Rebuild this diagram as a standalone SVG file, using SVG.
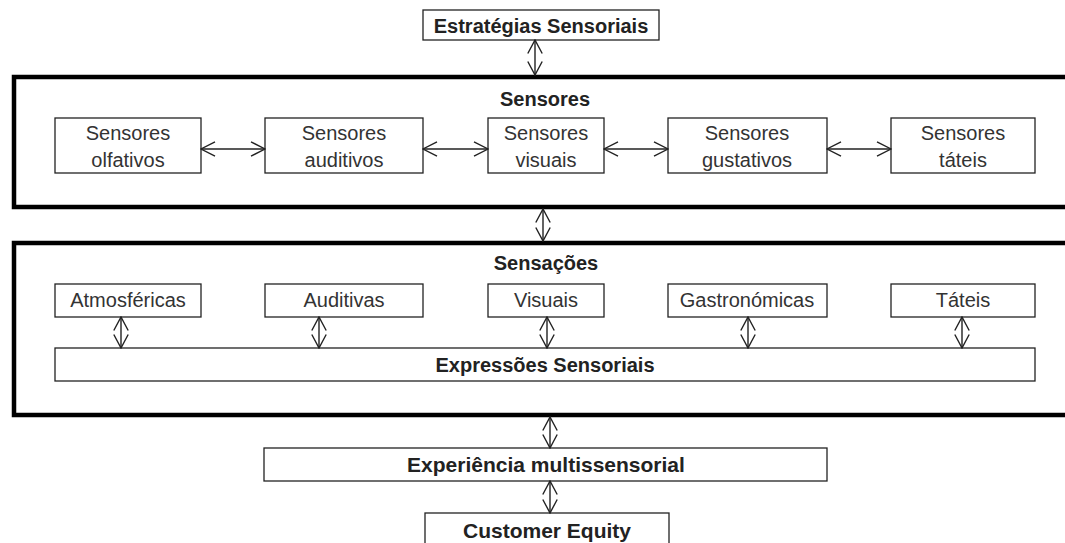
<svg xmlns="http://www.w3.org/2000/svg" width="1065" height="543" viewBox="0 0 1065 543">
  <style>
    .box { fill: #fff; stroke: #222; stroke-width: 1.3; }
    .frame { fill: none; stroke: #000; stroke-width: 4.5; }
    .lbl { font-family: "Liberation Sans", Arial, sans-serif; font-size: 20px; fill: #333; text-anchor: middle; }
    .ttl { font-family: "Liberation Sans", Arial, sans-serif; font-size: 20px; font-weight: bold; fill: #222; text-anchor: middle; }
    .ttl2 { font-family: "Liberation Sans", Arial, sans-serif; font-size: 21px; font-weight: bold; fill: #222; text-anchor: middle; }
    .conn { fill: none; stroke: #222; stroke-width: 1.4; }
    .h { marker-start: url(#hh); marker-end: url(#hh); }
    .v { marker-start: url(#vh); marker-end: url(#vh); }
  </style>
  <defs>
    <!-- open V head for horizontal links -->
    <marker id="hh" markerUnits="userSpaceOnUse" viewBox="0 0 16 16" markerWidth="16" markerHeight="16" refX="15" refY="8" orient="auto-start-reverse">
      <path d="M1,0.8 L15,8 L1,15.2" fill="none" stroke="#222" stroke-width="1.4"/>
    </marker>
    <!-- open V head for vertical links, wide enough to read as a diamond -->
    <marker id="vh" markerUnits="userSpaceOnUse" viewBox="0 0 16 16" markerWidth="16" markerHeight="16" refX="15" refY="8" orient="auto-start-reverse">
      <path d="M1.5,0.8 L15,8 L1.5,15.2" fill="none" stroke="#222" stroke-width="1.4"/>
    </marker>
  </defs>
  <rect width="1065" height="543" fill="#fff"/>

  <g id="strategies">
    <rect class="box" x="423" y="10" width="236" height="30"/>
    <text class="ttl" x="541" y="33">Estratégias Sensoriais</text>
  </g>

  <g id="sensors-frame">
    <rect class="frame" x="14" y="77" width="1060" height="130"/>
    <text class="ttl" x="545" y="106">Sensores</text>
  </g>
  <g id="sensor-olfactory">
    <rect class="box" x="55" y="118" width="146" height="55"/>
    <text class="lbl" x="128" y="140">Sensores</text>
    <text class="lbl" x="128" y="167">olfativos</text>
  </g>
  <g id="sensor-auditory">
    <rect class="box" x="265" y="118" width="158" height="55"/>
    <text class="lbl" x="344" y="140">Sensores</text>
    <text class="lbl" x="344" y="167">auditivos</text>
  </g>
  <g id="sensor-visual">
    <rect class="box" x="488" y="118" width="116" height="55"/>
    <text class="lbl" x="546" y="140">Sensores</text>
    <text class="lbl" x="546" y="167">visuais</text>
  </g>
  <g id="sensor-gustatory">
    <rect class="box" x="668" y="118" width="159" height="55"/>
    <text class="lbl" x="747" y="140">Sensores</text>
    <text class="lbl" x="747" y="167">gustativos</text>
  </g>
  <g id="sensor-tactile">
    <rect class="box" x="891" y="118" width="144" height="55"/>
    <text class="lbl" x="963" y="140">Sensores</text>
    <text class="lbl" x="963" y="167">táteis</text>
  </g>

  <g id="sensations-frame">
    <rect class="frame" x="14" y="243" width="1060" height="172"/>
    <text class="ttl" x="546" y="270">Sensações</text>
  </g>
  <g id="sensation-atmospheric">
    <rect class="box" x="55" y="284" width="146" height="33"/>
    <text class="lbl" x="128" y="307">Atmosféricas</text>
  </g>
  <g id="sensation-auditory">
    <rect class="box" x="265" y="284" width="158" height="33"/>
    <text class="lbl" x="344" y="307">Auditivas</text>
  </g>
  <g id="sensation-visual">
    <rect class="box" x="488" y="284" width="116" height="33"/>
    <text class="lbl" x="546" y="307">Visuais</text>
  </g>
  <g id="sensation-gastronomic">
    <rect class="box" x="668" y="284" width="159" height="33"/>
    <text class="lbl" x="747" y="307">Gastronómicas</text>
  </g>
  <g id="sensation-tactile">
    <rect class="box" x="891" y="284" width="144" height="33"/>
    <text class="lbl" x="963" y="307">Táteis</text>
  </g>
  <g id="sensory-expressions">
    <rect class="box" x="55" y="348" width="980" height="33"/>
    <text class="ttl" x="545" y="372">Expressões Sensoriais</text>
  </g>

  <g id="multisensory-experience">
    <rect class="box" x="264" y="448" width="563" height="33"/>
    <text class="ttl2" x="546" y="472">Experiência multissensorial</text>
  </g>
  <g id="customer-equity">
    <rect class="box" x="425" y="513" width="244" height="40"/>
    <text class="ttl2" x="547" y="538">Customer Equity</text>
  </g>

  <g id="connectors">
    <line class="conn v" x1="535" y1="40" x2="535" y2="75"/>
    <line class="conn v" x1="543" y1="209" x2="543" y2="241"/>
    <line class="conn h" x1="201" y1="149" x2="265" y2="149"/>
    <line class="conn h" x1="423" y1="149" x2="488" y2="149"/>
    <line class="conn h" x1="604" y1="149" x2="668" y2="149"/>
    <line class="conn h" x1="827" y1="149" x2="891" y2="149"/>
    <line class="conn v" x1="121" y1="317" x2="121" y2="348"/>
    <line class="conn v" x1="319" y1="317" x2="319" y2="348"/>
    <line class="conn v" x1="547" y1="317" x2="547" y2="348"/>
    <line class="conn v" x1="748" y1="317" x2="748" y2="348"/>
    <line class="conn v" x1="962" y1="317" x2="962" y2="348"/>
    <line class="conn v" x1="550" y1="417" x2="550" y2="448"/>
    <line class="conn v" x1="550" y1="481" x2="550" y2="513"/>
  </g>
</svg>
